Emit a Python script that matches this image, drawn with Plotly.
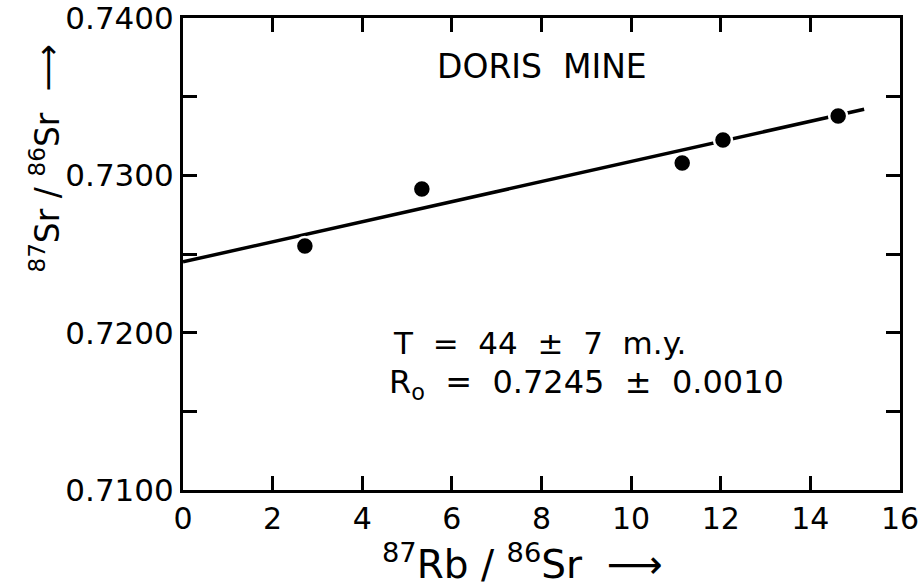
import plotly.graph_objects as go

# data
rb_sr = [2.72, 5.33, 11.14, 12.05, 14.62]
sr_sr = [0.72551, 0.72913, 0.73078, 0.73225, 0.73377]
fit_x = [0.0, 15.2]
fit_y = [0.7245, 0.7342]
x_ticks = [0, 2, 4, 6, 8, 10, 12, 14, 16]
y_ticks = [0.71, 0.72, 0.73, 0.74]
y_tick_labels = ["0.7100", "0.7200", "0.7300", "0.7400"]

FONT = "DejaVu Sans"
fig = go.Figure()
fig.add_trace(go.Scatter(x=fit_x, y=fit_y, mode="lines",
                         line=dict(color="black", width=3.5), showlegend=False))
fig.add_trace(go.Scatter(x=rb_sr, y=sr_sr, mode="markers",
                         marker=dict(color="black", size=18, line=dict(color="white", width=2.5)),
                         showlegend=False))

fig.update_xaxes(range=[0, 16], tickvals=x_ticks, ticktext=[str(v) for v in x_ticks],
                 ticks="inside", ticklen=14, tickwidth=2.5, tickcolor="black",
                 showline=True, linecolor="black", linewidth=3, mirror="ticks",
                 showgrid=False, zeroline=False, automargin=False, ticklabeloverflow="allow",
                 tickfont=dict(family=FONT, size=30, color="black"))
fig.update_yaxes(range=[0.71, 0.74], tickvals=y_ticks, ticktext=y_tick_labels,
                 ticks="inside", ticklen=14, tickwidth=2.5, tickcolor="black",
                 showline=True, linecolor="black", linewidth=3, mirror="ticks",
                 showgrid=False, zeroline=False, automargin=False, ticklabeloverflow="allow",
                 minor=dict(dtick=0.005, ticks="inside", ticklen=14, tickwidth=2.5, tickcolor="black"),
                 tickfont=dict(family=FONT, size=31, color="black"))

annots = [
    dict(text="DORIS  MINE", x=0.5, y=0.897, xanchor="center", font=dict(size=33)),
    dict(text="T  =  44  ±  7  m.y.", x=0.29, y=0.311, xanchor="left", font=dict(size=31)),
    dict(text="R<sub>o</sub>  =  0.7245  ±  0.0010", x=0.284, y=0.225, xanchor="left",
         font=dict(size=32)),
    dict(text="<sup>87</sup>Rb / <sup>86</sup>Sr  ⟶", x=0.474, y=-0.152, xanchor="center",
         font=dict(size=39)),
    dict(text="<sup>87</sup>Sr / <sup>86</sup>Sr  ⟶", x=-0.192, y=0.703, xanchor="center",
         textangle=-90, font=dict(size=33)),
]
for a in annots:
    a["showarrow"] = False
    a["xref"] = "paper"
    a["yref"] = "paper"
    a["yanchor"] = "middle"
    a["font"]["family"] = FONT
    a["font"]["color"] = "black"
    fig.add_annotation(**a)

fig.update_layout(width=919, height=587, margin=dict(l=183, r=19, t=18, b=97, autoexpand=False),
                  plot_bgcolor="white", paper_bgcolor="white", showlegend=False)
fig.write_html("out.html", config={"displayModeBar": False},
               post_script="document.body.style.margin='0';document.body.style.overflow='hidden';")
